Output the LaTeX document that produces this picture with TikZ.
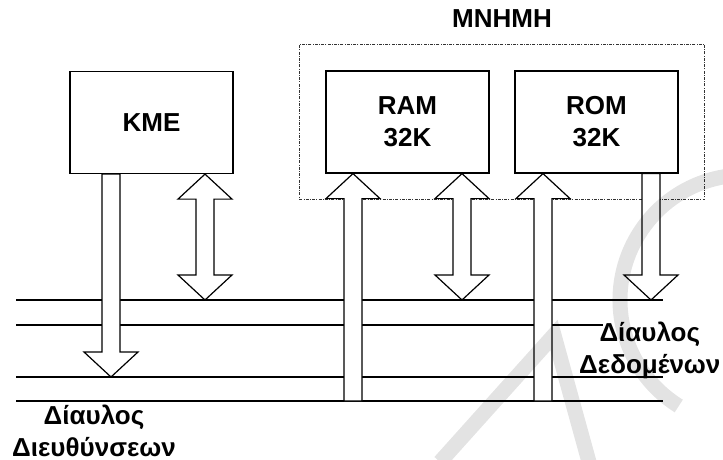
\documentclass[tikz,border=0pt]{standalone}
\usepackage{fontspec}
\setmainfont{Liberation Sans}
\usetikzlibrary{positioning,fit,calc}

% fat block arrows (shaft 9pt, head 27pt x 12.5pt)
\newcommand{\fatdown}[2]{\draw[fat] let \p1=(#1), \p2=(#2) in
  (\x1-4.5pt,\y1) -- (\x1-4.5pt,\y2+12.5pt) -- (\x1-13.5pt,\y2+12.5pt) -- (\x1,\y2)
  -- (\x1+13.5pt,\y2+12.5pt) -- (\x1+4.5pt,\y2+12.5pt) -- (\x1+4.5pt,\y1) -- cycle;}
\newcommand{\fatup}[2]{\draw[fat] let \p1=(#1), \p2=(#2) in
  (\x1-4.5pt,\y1) -- (\x1-4.5pt,\y2-12.5pt) -- (\x1-13.5pt,\y2-12.5pt) -- (\x1,\y2)
  -- (\x1+13.5pt,\y2-12.5pt) -- (\x1+4.5pt,\y2-12.5pt) -- (\x1+4.5pt,\y1) -- cycle;}
\newcommand{\fatboth}[2]{\draw[fat] let \p1=(#1), \p2=(#2) in
  (\x1,\y1) -- (\x1+13.5pt,\y1-12.5pt) -- (\x1+4.5pt,\y1-12.5pt) -- (\x1+4.5pt,\y2+12.5pt)
  -- (\x1+13.5pt,\y2+12.5pt) -- (\x1,\y2) -- (\x1-13.5pt,\y2+12.5pt) -- (\x1-4.5pt,\y2+12.5pt)
  -- (\x1-4.5pt,\y1-12.5pt) -- (\x1-13.5pt,\y1-12.5pt) -- cycle;}

\begin{document}
\begin{tikzpicture}[x=0.5pt,y=-0.5pt,line width=0.6pt,
  unit/.style={draw, minimum width=81.5pt, minimum height=51pt, align=center,
    font=\bfseries\fontsize{13}{16}\selectfont},
  lbl/.style={align=center, font=\bfseries\fontsize{13}{16}\selectfont},
  memframe/.style={draw=black!80, line width=0.5pt,
    dash pattern=on 1.5pt off 0.6pt on 0.5pt off 0.6pt},
  fat/.style={draw, fill=white, line join=miter},
  wm/.style={draw=black!11, line width=7.5pt, blend mode=multiply}]
  \useasboundingbox (0,0) rectangle (723,460);
  % units
  \node[unit] (kme) at (151.5,122.5) {KME};
  \node[unit] (ram) at (407.5,122) {RAM\\32K};
  \node[unit] (rom) at (596.5,122) {ROM\\32K};
  \node[memframe, fit=(ram)(rom), inner sep=13pt] (mem) {};
  \node[lbl, above=4.5pt of mem] (memlbl) {MNHMH};
  % buses
  \coordinate (dbT) at (16,300);
  \coordinate (dbB) at (16,325);
  \coordinate (abT) at (16,377);
  \coordinate (abB) at (16,401);
  \coordinate (busE) at (663,0);
  \coordinate (dbBe) at (603,325);
  \foreach \b in {dbT,abT,abB}{\draw (\b) -- (\b -| busE);}
  \draw (dbB) -- (dbBe);
  \node[lbl, anchor=east, inner xsep=1pt] (dblbl) at (723,350) {Δίαυλος\\Δεδομένων};
  \node[lbl] (ablbl) at (94,431) {Δίαυλος\\Διευθύνσεων};
  % taps
  \coordinate (kmeA) at ($(kme.south)+(-40.5,0)$);
  \coordinate (kmeD) at ($(kme.south)+(53.5,0)$);
  \coordinate (ramA) at ($(ram.south)+(-54.5,0)$);
  \coordinate (ramD) at ($(ram.south)+(54.5,0)$);
  \coordinate (romA) at ($(rom.south)+(-53.5,0)$);
  \coordinate (romD) at ($(rom.south)+(54.5,0)$);
  \fatdown{kmeA}{kmeA |- abT}
  \fatboth{kmeD}{kmeD |- dbT}
  \fatup{ramA |- abB}{ramA}
  \fatboth{ramD}{ramD |- dbT}
  \fatup{romA |- abB}{romA}
  \fatdown{romD}{romD |- dbT}
  % watermark
  \draw[wm] (440,462) -- (554,335) -- (589,462);
  \draw[wm] (745,300) ++(122:125) arc[start angle=122, end angle=290, radius=125];
\end{tikzpicture}
\end{document}
